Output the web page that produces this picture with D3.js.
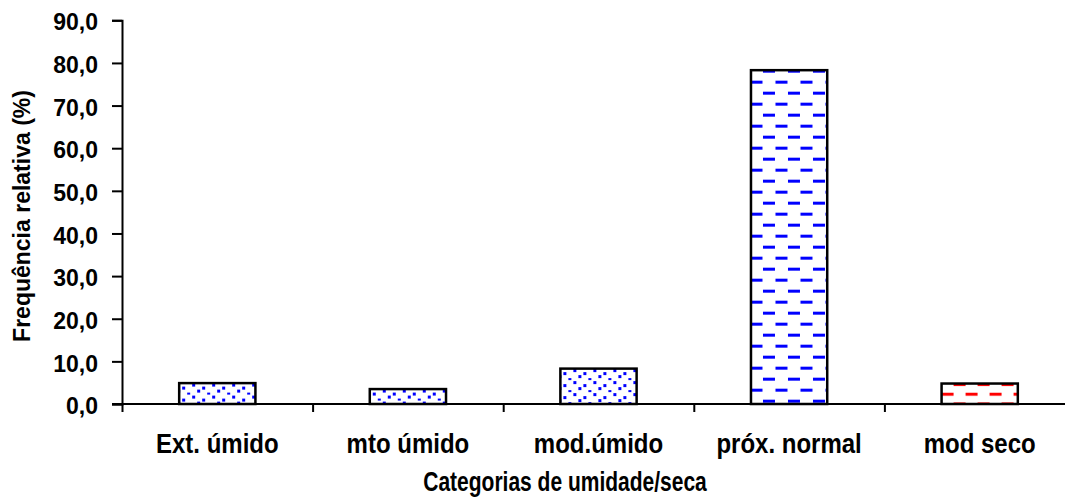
<!DOCTYPE html>
<html>
<head>
<meta charset="utf-8">
<script src="https://cdn.jsdelivr.net/npm/d3@7"></script>
<style>
    body { margin: 0; background: #fff; }
    text { font-family: 'Liberation Sans', Arial, sans-serif; font-weight: bold; fill: #000; }
</style>
</head>
<body>
<svg id="chart" width="1065" height="499"></svg>
<script>
// data
const categories = ['Ext. úmido', 'mto úmido', 'mod.úmido', 'próx. normal', 'mod seco'];
const values = [4.9, 3.5, 8.3, 78.3, 4.8];
const fills = ['dots', 'dots', 'dots', 'dash_blue', 'dash_red'];
const yTicks = [0, 10, 20, 30, 40, 50, 60, 70, 80, 90];

const svg = d3.select('#chart');

// plot area
let plotLeft = 122;
let plotRight = 1075;
let plotTop = 20.3;
let plotBottom = 404;

let x = d3.scaleBand().domain(categories).range([plotLeft, plotRight])
    .paddingInner(0.6).paddingOuter(0.3);
let xEdges = d3.scaleLinear().domain([0, categories.length]).range([plotLeft, plotRight]);
let y = d3.scaleLinear().domain([0, 90]).range([plotBottom, plotTop]);

// fill patterns, one for each bar so they start at the bar corner
let defs = svg.append('defs');

function make_pattern(id, kind, px, py) {
    if (kind == 'dots') {
        let p = defs.append('pattern')
            .attr('id', id)
            .attr('patternUnits', 'userSpaceOnUse')
            .attr('x', px).attr('y', py)
            .attr('width', 20).attr('height', 12);
        p.append('rect').attr('width', 20).attr('height', 12).attr('fill', '#fff');
        [[1, 1], [11, 4], [6, 7], [16, 10]].forEach((d) => {
            p.append('rect')
                .attr('x', d[0]).attr('y', d[1])
                .attr('width', 3).attr('height', 3)
                .attr('fill', '#0000ff');
        });
    }
    else {
        let color = kind == 'dash_red' ? '#ff0000' : '#0000ff';
        let w = kind == 'dash_red' ? 24 : 25;
        let h = kind == 'dash_red' ? 19.4 : 22;
        let p = defs.append('pattern')
            .attr('id', id)
            .attr('patternUnits', 'userSpaceOnUse')
            .attr('x', px).attr('y', py)
            .attr('width', w).attr('height', h);
        p.append('rect').attr('width', w).attr('height', h).attr('fill', '#fff');
        p.append('rect').attr('x', 0).attr('y', 0)
            .attr('width', 12).attr('height', 3).attr('fill', color);
        p.append('rect').attr('x', w / 2).attr('y', h / 2)
            .attr('width', 12).attr('height', 3).attr('fill', color);
    }
}

categories.forEach((c, i) => {
    make_pattern('fill_' + i, fills[i], x(c) + 12, y(values[i]) - 0.5);
});

// bars
svg.append('g')
    .selectAll('.bar')
    .data(values)
    .enter()
    .append('rect')
    .attr('class', 'bar')
    .attr('x', (d, i) => x(categories[i]))
    .attr('y', (d) => y(d))
    .attr('width', x.bandwidth())
    .attr('height', (d) => y(0) - y(d))
    .attr('fill', (d, i) => 'url(#fill_' + i + ')')
    .attr('stroke', '#000')
    .attr('stroke-width', 2.5);

// y axis
let yAxis = svg.append('g')
    .attr('transform', 'translate(' + plotLeft + ',0)')
    .call(d3.axisLeft(y).tickValues(yTicks).tickSize(10).tickPadding(14)
        .tickFormat((d) => d3.format('.1f')(d).replace('.', ',')));
yAxis.selectAll('text').style('font-size', '23px').attr('dy', '0.42em');

// x axis: tick marks at the category edges, labels at the centres
let xAxis = svg.append('g')
    .attr('transform', 'translate(0,' + plotBottom + ')')
    .call(d3.axisBottom(xEdges).tickValues(d3.range(0, categories.length + 1))
        .tickSize(8).tickFormat(''));
xAxis.select('.domain').attr('d', 'M' + (plotLeft - 10) + ',0H' + plotRight);

// labels are a bit taller than wide in the picture, so stretch them
svg.append('g')
    .selectAll('.cat_label')
    .data(categories)
    .enter()
    .append('text')
    .attr('class', 'cat_label')
    .text((d) => d)
    .attr('transform', (d) => 'translate(' + (x(d) + x.bandwidth() / 2) + ',453) scale(1,1.16)')
    .attr('text-anchor', 'middle')
    .style('font-size', '24px');

svg.selectAll('.domain, .tick line')
    .attr('stroke', '#000')
    .attr('stroke-width', 2);

// axis titles
svg.append('text')
    .text('Categorias de umidade/seca')
    .attr('transform', 'translate(565,491) scale(1,1.3)')
    .attr('text-anchor', 'middle')
    .style('font-size', '21px');

svg.append('text')
    .text('Frequência relativa (%)')
    .attr('transform', 'translate(30,216) rotate(-90)')
    .attr('text-anchor', 'middle')
    .style('font-size', '23px');
</script>
</body>
</html>
